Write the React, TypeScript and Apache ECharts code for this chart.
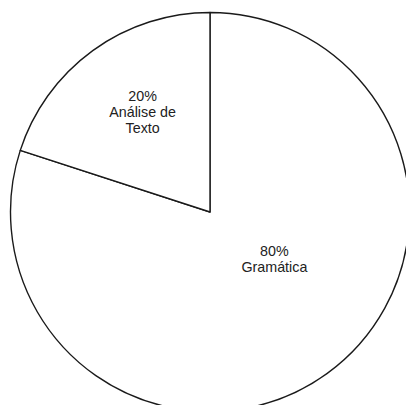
import React, { useEffect, useRef } from "react";
import * as echarts from "echarts";

const categories = ["Gramática", "Análise de Texto"];
const values = [80, 20];
const labelTexts = ["80%\nGramática", "20%\nAnálise de\nTexto"];

export default function App() {
  const ref = useRef<HTMLDivElement>(null);
  useEffect(() => {
    document.body.style.margin = "0";
    const chart = echarts.init(ref.current!, undefined, { renderer: "svg" });
    const offsets = [
      [4, -36],
      [-7, -17],
    ];
    chart.setOption({
      animation: false,
      backgroundColor: "#ffffff",
      series: [
        {
          type: "pie",
          center: [210, 212],
          radius: [0, 199.5],
          startAngle: 90,
          clockwise: true,
          silent: true,
          itemStyle: { color: "#ffffff", borderColor: "#1a1a1a", borderWidth: 1.4 },
          label: {
            show: true,
            position: "inside",
            fontFamily: "Liberation Sans, Arial, sans-serif",
            fontSize: 14.3,
            lineHeight: 16,
            color: "#222222",
            align: "center",
          },
          labelLine: { show: false },
          emphasis: { disabled: true },
          data: categories.map((name, i) => ({
            name,
            value: values[i],
            label: { formatter: labelTexts[i], offset: offsets[i] },
          })),
        },
      ],
    });
    return () => chart.dispose();
  }, []);
  return <div ref={ref} style={{ width: 406, height: 405 }} />;
}
